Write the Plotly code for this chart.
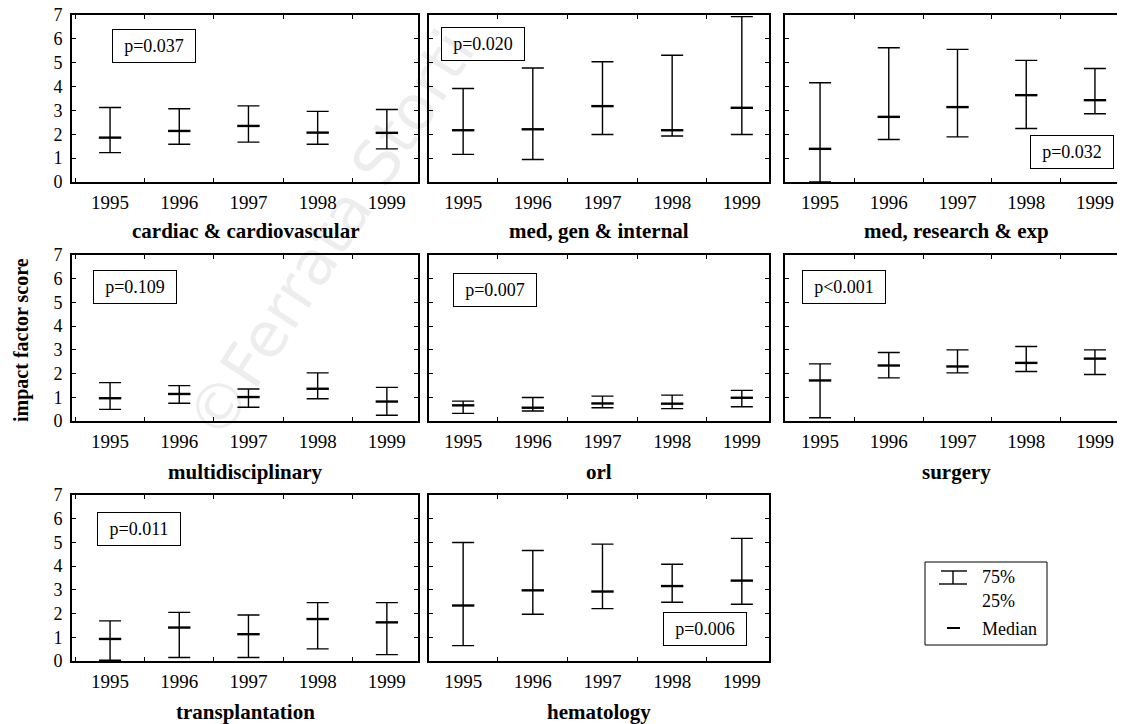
import plotly.graph_objects as go

years = ["1995", "1996", "1997", "1998", "1999"]

panel_titles = ["cardiac & cardiovascular", "med, gen & internal", "med, research & exp",
                "multidisciplinary", "orl", "surgery",
                "transplantation", "hematology"]
p_values = ["p=0.037", "p=0.020", "p=0.032", "p=0.109", "p=0.007", "p<0.001", "p=0.011", "p=0.006"]

# 25th percentile, median, 75th percentile per panel
cardiac_q25 = [1.23, 1.58, 1.67, 1.58, 1.39]
cardiac_med = [1.86, 2.14, 2.35, 2.07, 2.06]
cardiac_q75 = [3.12, 3.07, 3.19, 2.96, 3.04]

medgen_q25 = [1.16, 0.94, 1.99, 1.93, 1.99]
medgen_med = [2.17, 2.21, 3.18, 2.17, 3.11]
medgen_q75 = [3.92, 4.78, 5.04, 5.31, 6.93]

medres_q25 = [0.0, 1.78, 1.89, 2.24, 2.86]
medres_med = [1.39, 2.73, 3.14, 3.64, 3.43]
medres_q75 = [4.16, 5.63, 5.56, 5.10, 4.76]

multi_q25 = [0.49, 0.75, 0.58, 0.94, 0.24]
multi_med = [0.96, 1.14, 1.01, 1.36, 0.82]
multi_q75 = [1.62, 1.49, 1.35, 2.03, 1.42]

orl_q25 = [0.32, 0.42, 0.56, 0.52, 0.60]
orl_med = [0.66, 0.56, 0.74, 0.73, 0.98]
orl_q75 = [0.84, 0.99, 1.05, 1.09, 1.29]

surg_q25 = [0.14, 1.82, 2.03, 2.09, 1.96]
surg_med = [1.71, 2.34, 2.30, 2.45, 2.63]
surg_q75 = [2.41, 2.89, 3.00, 3.14, 3.00]

trans_q25 = [0.03, 0.15, 0.15, 0.51, 0.27]
trans_med = [0.93, 1.41, 1.13, 1.77, 1.63]
trans_q75 = [1.69, 2.05, 1.94, 2.46, 2.46]

hema_q25 = [0.65, 1.97, 2.21, 2.48, 2.39]
hema_med = [2.34, 2.98, 2.93, 3.16, 3.39]
hema_q75 = [5.00, 4.66, 4.93, 4.08, 5.17]

y_ticks = [0, 1, 2, 3, 4, 5, 6, 7]

panels = [
    (cardiac_q25, cardiac_med, cardiac_q75),
    (medgen_q25, medgen_med, medgen_q75),
    (medres_q25, medres_med, medres_q75),
    (multi_q25, multi_med, multi_q75),
    (orl_q25, orl_med, orl_q75),
    (surg_q25, surg_med, surg_q75),
    (trans_q25, trans_med, trans_q75),
    (hema_q25, hema_med, hema_q75),
]

W, H = 1125, 724
OFF = 8  # page body margin


def fx(p):
    return (p - OFF) / W


def fy(p):
    return 1 - (p - OFF) / H


col_px = [(72, 418), (429, 769), (785, 1130)]
col_range = [[-0.55, 4.45], [-0.49, 4.39], [-0.51, 4.51]]
row_px = [(15, 182), (255, 421), (495, 661)]
title_y_px = [231, 472, 712]
title_cx = [245, 599, 957]
pbox_pos = [(0.238, 0.817), (0.160, 0.826), (0.832, 0.177), (0.183, 0.807),
            (0.194, 0.789), (0.170, 0.807), (0.193, 0.795), (0.811, 0.190)]

SERIF = "Liberation Serif"

fig = go.Figure()
annotations = []
layout_axes = {}

for i, (q25, med, q75) in enumerate(panels):
    r, c = divmod(i, 3)
    n = i + 1
    xa = "x" if n == 1 else f"x{n}"
    ya = "y" if n == 1 else f"y{n}"
    up = [b - m for b, m in zip(q75, med)]
    down = [m - a for a, m in zip(q25, med)]
    fig.add_trace(go.Scatter(
        x=years, y=med, mode="markers", xaxis=xa, yaxis=ya, showlegend=False,
        marker=dict(symbol="line-ew", size=16, color="black",
                    line=dict(width=2.4, color="black")),
        error_y=dict(type="data", symmetric=False, array=up, arrayminus=down,
                     color="black", thickness=1.4, width=11),
        cliponaxis=False,
    ))
    x0, x1 = col_px[c]
    y0, y1 = row_px[r]
    xkey = "xaxis" if n == 1 else f"xaxis{n}"
    ykey = "yaxis" if n == 1 else f"yaxis{n}"
    layout_axes[xkey] = dict(
        domain=[fx(x0), min(fx(x1), 1.0)], anchor=ya, type="category",
        categoryorder="array", categoryarray=years, range=col_range[c],
        showline=True, linecolor="black", linewidth=1.6, mirror="ticks",
        ticks="inside", ticklen=4, tickwidth=1, tickcolor="black",
        tickson="boundaries", showgrid=False, zeroline=False,
        tickfont=dict(family=SERIF, size=19, color="black"),
        ticklabelstandoff=2, ticklabeloverflow="allow",
        fixedrange=True, automargin=False,
    )
    layout_axes[ykey] = dict(
        domain=[fy(y1), fy(y0)], anchor=xa, range=[0, 7],
        tickvals=y_ticks, showticklabels=(c == 0),
        showline=True, linecolor="black", linewidth=1.6, mirror="ticks",
        ticks="inside", ticklen=4, tickwidth=1, tickcolor="black",
        showgrid=False, zeroline=False,
        tickfont=dict(family=SERIF, size=18, color="black"),
        ticklabelstandoff=4, ticklabeloverflow="allow",
        fixedrange=True, automargin=False,
    )
    # panel title
    annotations.append(dict(
        x=fx(title_cx[c]), y=fy(title_y_px[r]), xref="paper", yref="paper",
        text=f"<b>{panel_titles[i]}</b>", showarrow=False,
        font=dict(family=SERIF, size=21, color="black"),
        xanchor="center", yanchor="middle",
    ))
    # p-value box
    px, py = pbox_pos[i]
    annotations.append(dict(
        x=px, y=py, xref=f"{xa} domain", yref=f"{ya} domain",
        text=p_values[i], showarrow=False, width=80, height=30,
        align="center", valign="middle",
        bordercolor="black", borderwidth=1, borderpad=1, bgcolor="white",
        font=dict(family=SERIF, size=18, color="black"),
        xanchor="center", yanchor="middle",
    ))

# y-axis title
annotations.append(dict(
    x=fx(21), y=fy(340), xref="paper", yref="paper",
    text="<b>impact factor score</b>", textangle=-90, showarrow=False,
    font=dict(family=SERIF, size=20, color="black"),
    xanchor="center", yanchor="middle",
))

# legend box (drawn)
shapes = [
    dict(type="rect", xref="paper", yref="paper",
         x0=fx(925), x1=fx(1047), y0=fy(645), y1=fy(562),
         line=dict(color="black", width=1)),
    dict(type="line", xref="paper", yref="paper",
         x0=fx(941), x1=fx(967), y0=fy(571), y1=fy(571),
         line=dict(color="black", width=1.4)),
    dict(type="line", xref="paper", yref="paper",
         x0=fx(939), x1=fx(967), y0=fy(584), y1=fy(584),
         line=dict(color="black", width=1.4)),
    dict(type="line", xref="paper", yref="paper",
         x0=fx(953), x1=fx(953), y0=fy(571), y1=fy(584),
         line=dict(color="black", width=1.4)),
    dict(type="line", xref="paper", yref="paper",
         x0=fx(947), x1=fx(960), y0=fy(628), y1=fy(628),
         line=dict(color="black", width=2)),
]
for txt, ty in [("75%", 577), ("25%", 601), ("Median", 629)]:
    annotations.append(dict(
        x=fx(980), y=fy(ty), xref="paper", yref="paper", text=txt,
        showarrow=False, xanchor="left", yanchor="middle",
        font=dict(family=SERIF, size=18, color="black"),
    ))

# faint watermark
annotations.append(dict(
    x=fx(330), y=fy(235), xref="paper", yref="paper",
    text="©Ferrata Storti", textangle=-57, showarrow=False,
    font=dict(family="DejaVu Sans", size=62, color="rgba(0,0,0,0.07)"),
    xanchor="center", yanchor="middle",
))

fig.update_layout(
    width=W, height=H, margin=dict(l=0, r=0, t=0, b=0),
    paper_bgcolor="white", plot_bgcolor="white",
    annotations=annotations, shapes=shapes, showlegend=False,
    **layout_axes,
)

fig.write_html("out.html")
